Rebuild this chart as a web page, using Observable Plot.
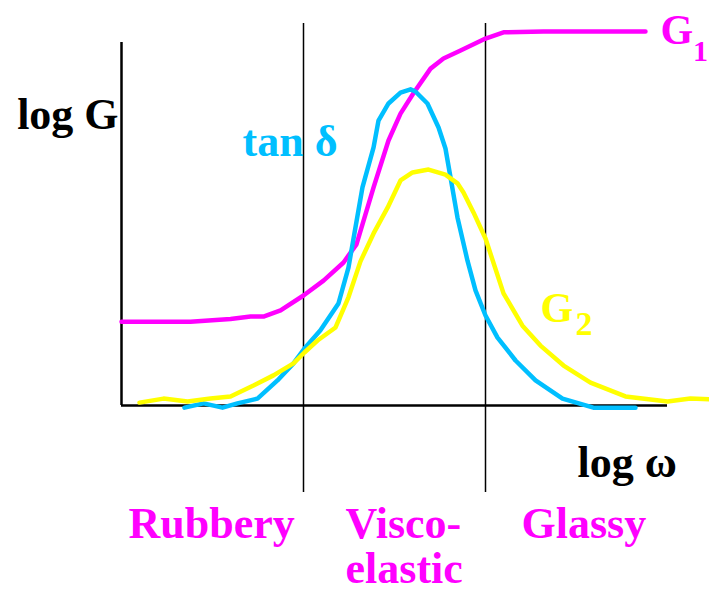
<!DOCTYPE html>
<html>
<head>
<meta charset="utf-8">
<script src="https://cdn.jsdelivr.net/npm/d3@7"></script>
<script src="https://cdn.jsdelivr.net/npm/@observablehq/plot@0.6"></script>
<style>
  html, body { margin: 0; padding: 0; background: #fff; }
  svg { display: block; }
  #chart svg text { font-family: "Liberation Serif", "Times New Roman", serif !important; font-weight: bold; }
</style>
</head>
<body>
<div id="chart"></div>
<script>
// x: log ω (arbitrary units), y: log G (arbitrary units)
const g1X = [0, 3.79, 5.99, 7.09, 7.80, 8.74, 10.0, 11.10, 12.20, 12.91, 13.85, 14.67, 15.33, 16.04, 16.98, 17.69, 18.63, 20.0, 20.99, 23.19, 28.79];
const g1Y = [2.31, 2.31, 2.38, 2.45, 2.45, 2.62, 3.03, 3.44, 3.94, 4.44, 6.01, 7.30, 8.04, 8.60, 9.28, 9.56, 9.78, 10.11, 10.28, 10.30, 10.30];

const tanX = [3.46, 4.51, 5.55, 6.37, 7.47, 8.57, 9.45, 10.05, 10.93, 11.92, 12.47, 13.24, 13.85, 14.12, 14.67, 15.33, 15.88, 16.15, 16.81, 17.42, 17.80, 18.08, 18.46, 19.01, 19.45, 20.0, 20.66, 21.65, 22.75, 24.23, 25.93, 28.24];
const tanY = [-0.06, 0.06, -0.06, 0.06, 0.19, 0.69, 1.16, 1.57, 2.07, 2.81, 3.80, 6.01, 7.11, 7.85, 8.32, 8.62, 8.71, 8.65, 8.32, 7.66, 7.08, 6.28, 5.18, 3.99, 3.17, 2.48, 1.87, 1.24, 0.69, 0.19, -0.06, -0.06];

const g2X = [0.99, 2.31, 3.63, 4.89, 5.99, 7.25, 8.35, 9.45, 10.05, 10.77, 11.76, 12.47, 13.13, 13.85, 14.62, 15.33, 15.99, 16.87, 17.80, 18.46, 18.79, 19.34, 20.0, 20.99, 22.03, 23.02, 24.29, 25.77, 27.69, 30.0, 31.26, 32.31];
const g2Y = [0.08, 0.19, 0.11, 0.19, 0.25, 0.55, 0.83, 1.16, 1.46, 1.79, 2.15, 2.98, 3.97, 4.74, 5.45, 6.20, 6.42, 6.50, 6.36, 6.12, 5.87, 5.32, 4.60, 3.09, 2.20, 1.65, 1.10, 0.63, 0.25, 0.11, 0.19, 0.17];

const regionBounds = [10, 20];
const regionLabels = ["Rubbery", "Visco-", "elastic", "Glassy"];
const axisLabels = ["log G", "log ω"];
const seriesLabels = ["tan δ", "G", "1", "G", "2"];

const MAGENTA = "#ff00ff", CYAN = "#00bfff", YELLOW = "#ffff00";
const FONT = "Liberation Serif";

const g1 = g1X.map((x, i) => ({x, y: g1Y[i]}));
const tan = tanX.map((x, i) => ({x, y: tanY[i]}));
const g2 = g2X.map((x, i) => ({x, y: g2Y[i]}));

const txt = (text, x, y, opts) => Plot.text([text], {
  x: () => x, y: () => y, text: d => d,
  lineAnchor: "bottom", fontFamily: FONT, fontWeight: "bold", ...opts
});

const chart = Plot.plot({
  width: 709,
  height: 594,
  marginLeft: 121,
  marginRight: 42,
  marginTop: 42,
  marginBottom: 189,
  x: {domain: [0, 30], axis: null},
  y: {domain: [0, 10], axis: null},
  style: {background: "white", overflow: "visible"},
  marks: [
    Plot.ruleX(regionBounds, {x: d => d, y1: -2.4, y2: 10.52, stroke: "black", strokeWidth: 1.5}),
    Plot.ruleX([0], {y1: 0, y2: 10, stroke: "black", strokeWidth: 2.5}),
    Plot.ruleY([0], {x1: 0, x2: 30, stroke: "black", strokeWidth: 2.5}),
    Plot.line(g1, {x: "x", y: "y", stroke: MAGENTA, strokeWidth: 4.5}),
    Plot.line(tan, {x: "x", y: "y", stroke: CYAN, strokeWidth: 4.5}),
    Plot.line(g2, {x: "x", y: "y", stroke: YELLOW, strokeWidth: 4.5}),
    txt(axisLabels[0], -0.16, 7.63, {textAnchor: "end", fontSize: 44, fill: "black"}),
    txt(axisLabels[1], 25.05, -1.98, {textAnchor: "start", fontSize: 44, fill: "black"}),
    txt(seriesLabels[0], 6.65, 6.86, {textAnchor: "start", fontSize: 44, fill: CYAN}),
    txt(seriesLabels[1], 29.62, 9.97, {textAnchor: "start", fontSize: 42, fill: MAGENTA}),
    txt(seriesLabels[2], 31.4, 9.5, {textAnchor: "start", fontSize: 30, fill: MAGENTA}),
    txt(seriesLabels[3], 23.02, 2.29, {textAnchor: "start", fontSize: 42, fill: YELLOW}),
    txt(seriesLabels[4], 24.95, 1.93, {textAnchor: "start", fontSize: 34, fill: YELLOW}),
    txt(regionLabels[0], 4.95, -3.64, {textAnchor: "middle", fontSize: 44, fill: MAGENTA}),
    txt(regionLabels[1], 12.31, -3.64, {textAnchor: "start", fontSize: 44, fill: MAGENTA}),
    txt(regionLabels[2], 12.31, -4.90, {textAnchor: "start", fontSize: 44, fill: MAGENTA}),
    txt(regionLabels[3], 21.98, -3.64, {textAnchor: "start", fontSize: 44, fill: MAGENTA})
  ]
});
document.getElementById("chart").appendChild(chart);
</script>
</body>
</html>
